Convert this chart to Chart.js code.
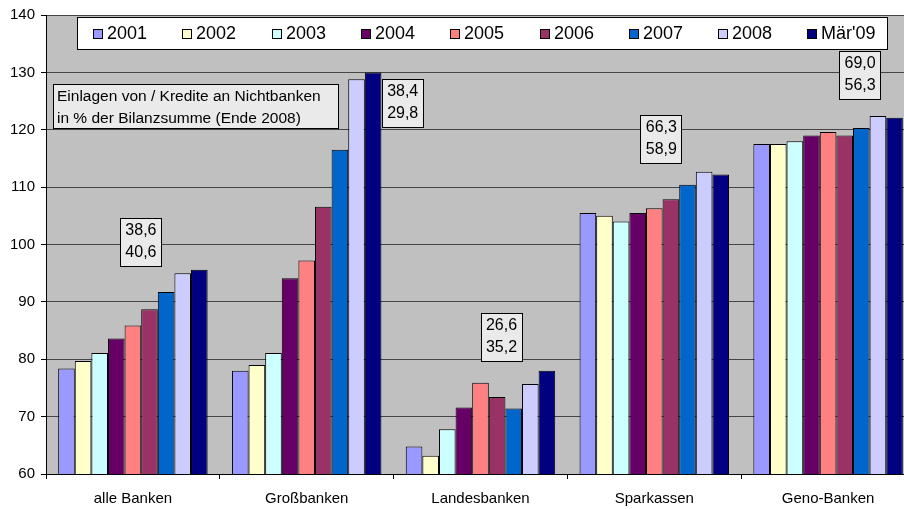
<!DOCTYPE html>
<html>
<head>
<meta charset="utf-8">
<script src="https://cdn.jsdelivr.net/npm/chart.js@4.4.1/dist/chart.umd.min.js"></script>
<style>
  html, body { margin: 0; padding: 0; background: #fff; overflow: hidden; }
  #wrap { width: 916px; height: 509px; }
</style>
</head>
<body>
<div id="wrap"><canvas id="chart" width="916" height="509"></canvas></div>
<script>
// categories
const groups = ['alle Banken', 'Großbanken', 'Landesbanken', 'Sparkassen', 'Geno-Banken'];
const years = ['2001', '2002', '2003', '2004', '2005', '2006', '2007', '2008', "Mär'09"];

// values per year, one per group
const v2001 = [78.4, 78.0, 64.8, 105.5, 117.5];
const v2002 = [79.7, 79.0, 63.2, 105.0, 117.5];
const v2003 = [81.1, 81.1, 67.8, 104.0, 118.0];
const v2004 = [83.6, 94.1, 71.6, 105.5, 119.0];
const v2005 = [85.9, 97.2, 75.9, 106.3, 119.6];
const v2006 = [88.7, 106.6, 73.4, 107.9, 119.0];
const v2007 = [91.7, 116.5, 71.4, 110.4, 120.3];
const v2008 = [95.0, 128.8, 75.7, 112.7, 122.4];
const vMar09 = [95.6, 130.0, 78.0, 112.2, 122.1];

// Einlagen / Kredite an Nichtbanken in % der Bilanzsumme (Ende 2008)
const einlagen = [38.6, 38.4, 26.6, 66.3, 69.0];
const kredite = [40.6, 29.8, 35.2, 58.9, 56.3];

const yMin = 60, yMax = 140, yStep = 10;
const noteLines = ['Einlagen von / Kredite an Nichtbanken', 'in % der Bilanzsumme (Ende 2008)'];

const colors = ['#9999FF', '#FFFFCC', '#CCFFFF', '#660066', '#FF8080', '#993366', '#0066CC', '#CCCCFF', '#000080'];
const series = [v2001, v2002, v2003, v2004, v2005, v2006, v2007, v2008, vMar09];

// box placement: px offset from category centre, y value of box top
const boxDx = [8, 96, 21, 7, 32];
const boxTop = [104.6, 128.8, 88.0, 122.65, 133.8];

const FONT = '"Liberation Sans", Arial, sans-serif';
const fmt = n => n.toFixed(1).replace('.', ',');

const bgPlugin = {
    id: 'plotBg',
    beforeDraw(chart) {
        const { ctx, chartArea: a } = chart;
        ctx.save();
        ctx.fillStyle = '#C0C0C0';
        ctx.fillRect(a.left, a.top, a.right - a.left, a.bottom - a.top);
        ctx.restore();
    }
};

function box(ctx, x, y, w, h) {
    ctx.fillStyle = '#EAEAEA';
    ctx.fillRect(x, y, w, h);
    ctx.strokeStyle = '#000';
    ctx.lineWidth = 1;
    ctx.strokeRect(x + 0.5, y + 0.5, w, h);
}

const extrasPlugin = {
    id: 'extras',
    afterDraw(chart) {
        const ctx = chart.ctx;
        const xs = chart.scales.x, ys = chart.scales.y;
        ctx.save();

        // legend
        ctx.fillStyle = '#fff';
        ctx.fillRect(77, 17, 810, 32);
        ctx.strokeStyle = '#000';
        ctx.lineWidth = 1;
        ctx.strokeRect(77.5, 17.5, 810, 32);
        ctx.font = '18px ' + FONT;
        ctx.textBaseline = 'middle';
        ctx.textAlign = 'left';
        chart.data.datasets.forEach((ds, i) => {
            const x = Math.round(93 + i * 89.3);
            ctx.fillStyle = ds.backgroundColor;
            ctx.fillRect(x, 29, 9, 9);
            ctx.strokeStyle = '#000';
            ctx.strokeRect(x + 0.5, 29.5, 9, 9);
            ctx.fillStyle = '#000';
            ctx.fillText(ds.label, x + 14, 34);
        });

        // note box
        box(ctx, 53, 84, 285, 44);
        ctx.fillStyle = '#000';
        ctx.font = '15.5px ' + FONT;
        ctx.fillText(noteLines[0], 57, 97);
        ctx.fillText(noteLines[1], 57, 119);

        // value boxes
        ctx.textAlign = 'center';
        ctx.font = '16px ' + FONT;
        groups.forEach((g, i) => {
            const cx = xs.getPixelForValue(i) + boxDx[i];
            const top = Math.round(ys.getPixelForValue(boxTop[i]));
            box(ctx, Math.round(cx - 21), top, 41, 48);
            ctx.fillStyle = '#000';
            ctx.fillText(fmt(einlagen[i]), cx, top + 13);
            ctx.fillText(fmt(kredite[i]), cx, top + 35);
        });
        ctx.restore();
    }
};

new Chart(document.getElementById('chart'), {
    type: 'bar',
    data: {
        labels: groups,
        datasets: years.map((y, i) => ({
            label: y,
            data: series[i],
            backgroundColor: colors[i],
            borderColor: '#000',
            borderWidth: 1,
            categoryPercentage: 0.86,
            barPercentage: 1.0
        }))
    },
    options: {
        responsive: false,
        animation: false,
        devicePixelRatio: 1,
        layout: { padding: { top: 15, right: 1, left: 0, bottom: 0 } },
        plugins: {
            legend: { display: false },
            tooltip: { enabled: false }
        },
        scales: {
            x: {
                grid: { display: true, drawOnChartArea: false, offset: true, tickLength: 5, color: '#000' },
                border: { display: true, color: '#000', width: 1 },
                ticks: { color: '#000', font: { family: FONT, size: 15 }, padding: 11, maxRotation: 0 },
                afterFit(s) { s.height = 35; }
            },
            y: {
                min: yMin,
                max: yMax,
                grid: { color: '#454545', tickColor: '#000', tickLength: 5, lineWidth: 1 },
                border: { display: true, color: '#000', width: 1 },
                ticks: { stepSize: yStep, color: '#000', font: { family: FONT, size: 15 }, padding: 6 },
                afterFit(s) { s.width = 46; }
            }
        }
    },
    plugins: [bgPlugin, extrasPlugin]
});
</script>
</body>
</html>
